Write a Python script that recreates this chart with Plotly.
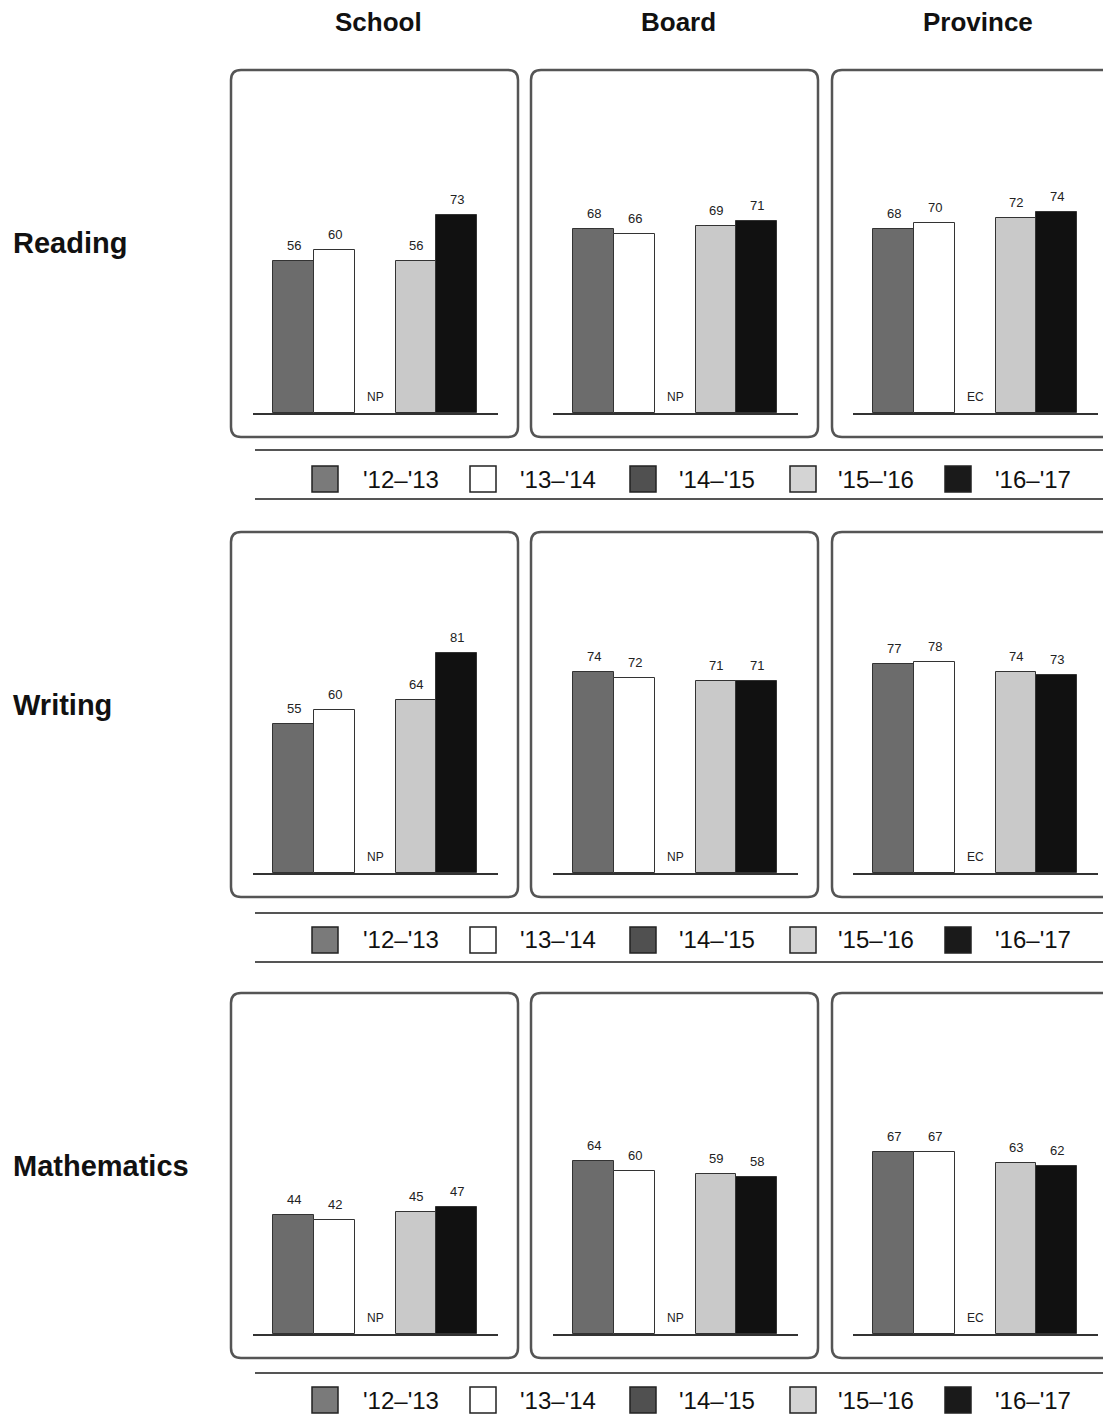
import plotly.graph_objects as go

# ---------------- data ----------------
years = ["'12–'13", "'13–'14", "'14–'15", "'15–'16", "'16–'17"]
levels = ["School", "Board", "Province"]
subjects = ["Reading", "Writing", "Mathematics"]

reading_school = [56, 60, None, 56, 73]
reading_board = [68, 66, None, 69, 71]
reading_province = [68, 70, None, 72, 74]

writing_school = [55, 60, None, 64, 81]
writing_board = [74, 72, None, 71, 71]
writing_province = [77, 78, None, 74, 73]

math_school = [44, 42, None, 45, 47]
math_board = [64, 60, None, 59, 58]
math_province = [67, 67, None, 63, 62]

missing_labels = ["NP", "NP", "EC"]  # per level, for '14–'15

values = [
    [reading_school, reading_board, reading_province],
    [writing_school, writing_board, writing_province],
    [math_school, math_board, math_province],
]

# ---------------- style ----------------
OFF = 8                      # browser default body margin
W, H = 1111 - OFF, 1418 - OFF
FONT = "Liberation Sans, Arial, sans-serif"
bar_colors = ["#6c6c6c", "#ffffff", "#4a4a4a", "#c9c9c9", "#111111"]
legend_colors = ["#7a7a7a", "#ffffff", "#505050", "#d4d4d4", "#1a1a1a"]

col_left = [253, 553, 853]       # px (window coords), left edge of plot area
col_width = 244.5
row_base = [413, 873, 1334]      # px, baseline
px_per_unit = 2.71
col_center = [378, 678, 978]
row_label_y = [243, 705, 1166]

panel_x = [(231, 518), (531, 818), (832, 1130)]
panel_y = [(70, 437), (532, 897), (993, 1358)]
legend_lines = [(450, 499), (913, 962), (1373, 1430)]
legend_cy = [479, 940, 1400]
sw_x = [312, 470, 630, 790, 945]
txt_x = [361, 518, 677, 836, 993]


def px(x):
    return (x - OFF) / W


def py(y):
    return 1 - (y - OFF) / H


fig = go.Figure()
shapes = []
annotations = []

k = 0
for r in range(3):
    for c in range(3):
        k += 1
        xa = "x" if k == 1 else f"x{k}"
        ya = "y" if k == 1 else f"y{k}"
        vals = values[r][c]
        fig.add_trace(go.Bar(
            x=years, y=vals,
            xaxis=xa, yaxis=ya,
            marker=dict(color=bar_colors, line=dict(color="#333333", width=1)),
            showlegend=False,
            hoverinfo="skip",
        ))
        for yr, v in zip(years, vals):
            if v is not None:
                annotations.append(dict(
                    x=yr, y=v, xref=xa, yref=ya, text=str(v),
                    showarrow=False, yanchor="bottom", yshift=6,
                    font=dict(family=FONT, size=13, color="#222222"),
                ))
        x0 = px(col_left[c])
        x1 = px(col_left[c] + col_width)
        y0 = py(row_base[r])
        y1 = py(row_base[r] - 100 * px_per_unit)
        xkey = "xaxis" if k == 1 else f"xaxis{k}"
        ykey = "yaxis" if k == 1 else f"yaxis{k}"
        fig.layout[xkey] = dict(
            domain=[x0, x1], anchor=ya, type="category",
            categoryorder="array", categoryarray=years,
            range=[-1, 5], showticklabels=False, ticks="",
            showgrid=False, zeroline=False, showline=True,
            linecolor="#333333", linewidth=1.5, fixedrange=True,
        )
        fig.layout[ykey] = dict(
            domain=[y0, y1], anchor=xa, range=[0, 100], visible=False,
            showgrid=False, zeroline=False, fixedrange=True,
        )
        annotations.append(dict(
            x=years[2], y=0, xref=xa, yref=ya, text=missing_labels[c],
            showarrow=False, yanchor="bottom", yshift=7,
            font=dict(family=FONT, size=12, color="#222222"),
        ))

# rounded panel boxes
rad = 10
for r in range(3):
    for c in range(3):
        xl, xr = panel_x[c]
        yt, yb = panel_y[r]
        rx, ry = rad / W, rad / H
        X0, X1, Y0, Y1 = px(xl), px(xr), py(yb), py(yt)
        path = (f"M {X0+rx},{Y1} L {X1-rx},{Y1} Q {X1},{Y1} {X1},{Y1-ry} "
                f"L {X1},{Y0+ry} Q {X1},{Y0} {X1-rx},{Y0} "
                f"L {X0+rx},{Y0} Q {X0},{Y0} {X0},{Y0+ry} "
                f"L {X0},{Y1-ry} Q {X0},{Y1} {X0+rx},{Y1} Z")
        shapes.append(dict(type="path", path=path, xref="paper", yref="paper",
                           line=dict(color="#555555", width=2.5), layer="below"))

# legends
for r in range(3):
    for ly in legend_lines[r]:
        shapes.append(dict(type="line", xref="paper", yref="paper",
                           x0=px(255), x1=1, y0=py(ly), y1=py(ly),
                           line=dict(color="#555555", width=2)))
    cy = legend_cy[r]
    for i, name in enumerate(years):
        shapes.append(dict(type="rect", xref="paper", yref="paper",
                           x0=px(sw_x[i]), x1=px(sw_x[i] + 26),
                           y0=py(cy + 13), y1=py(cy - 13),
                           fillcolor=legend_colors[i],
                           line=dict(color="#222222", width=1.5)))
        annotations.append(dict(x=px(txt_x[i]), y=py(cy), xref="paper", yref="paper",
                                text=name, showarrow=False, xanchor="left", yanchor="middle",
                                font=dict(family=FONT, size=24, color="#111111")))

# column titles
for c, name in enumerate(levels):
    annotations.append(dict(x=px(col_center[c]), y=py(22), xref="paper", yref="paper",
                            text=f"<b>{name}</b>", showarrow=False,
                            xanchor="center", yanchor="middle",
                            font=dict(family=FONT, size=26, color="#111111")))

# row labels
for r, name in enumerate(subjects):
    annotations.append(dict(x=px(11), y=py(row_label_y[r]), xref="paper", yref="paper",
                            text=f"<b>{name}</b>", showarrow=False,
                            xanchor="left", yanchor="middle",
                            font=dict(family=FONT, size=29, color="#111111")))

fig.update_layout(
    width=W, height=H,
    margin=dict(l=0, r=0, t=0, b=0),
    paper_bgcolor="white", plot_bgcolor="rgba(0,0,0,0)",
    bargap=0, barmode="group",
    shapes=shapes, annotations=annotations,
    font=dict(family=FONT),
    showlegend=False,
)

fig.write_html("out.html")
